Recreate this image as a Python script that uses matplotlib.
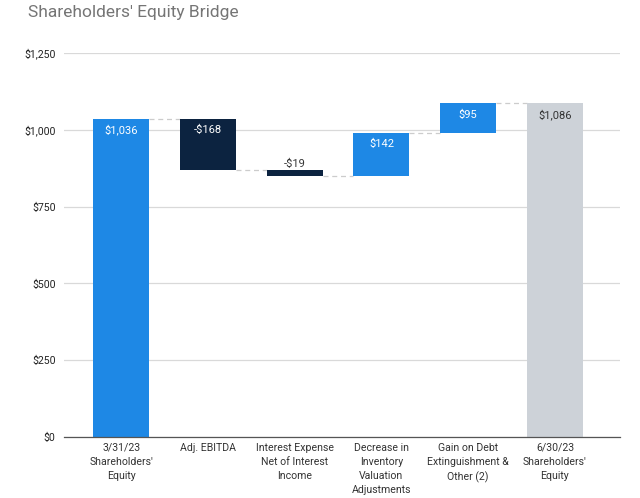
import matplotlib
matplotlib.use("Agg")
import matplotlib.pyplot as plt

categories = ["3/31/23\nShareholders'\nEquity", "Adj. EBITDA", "Interest Expense\nNet of Interest\nIncome",
              "Decrease in\nInventory\nValuation\nAdjustments", "Gain on Debt\nExtinguishment &\nOther (2)",
              "6/30/23\nShareholders'\nEquity"]
start_value = 1036
changes = [-168, -19, 142, 95]
end_value = 1086
labels = ["$1,036", "-$168", "-$19", "$142", "$95", "$1,086"]
yticks = [0, 250, 500, 750, 1000, 1250]
ytick_labels = ["$0", "$250", "$500", "$750", "$1,000", "$1,250"]

plt.rcParams['font.family'] = ['Roboto', 'DejaVu Sans']

BLUE = "#1e88e5"
NAVY = "#0c2340"
GRAY = "#cdd2d8"

fig = plt.figure(figsize=(6.4, 4.98), dpi=100)
ax = fig.add_axes([64/640, 1-437/498, (620-64)/640, (437-53)/498])

bottoms, heights, colors = [], [], []
bottoms.append(0); heights.append(start_value); colors.append(BLUE)
running = start_value
levels = [start_value]
for c in changes:
    new = running + c
    bottoms.append(min(running, new)); heights.append(abs(c))
    colors.append(BLUE if c > 0 else NAVY)
    running = new
    levels.append(running)
bottoms.append(0); heights.append(end_value); colors.append(GRAY)

x = list(range(len(categories)))
w = 0.645
ax.bar(x, heights, bottom=bottoms, width=w, color=colors, zorder=3)

# connectors
for i in range(len(categories)-1):
    ax.plot([i + w/2, i + 1 - w/2], [levels[i], levels[i]], ls=(0, (4, 3)),
            color="#cccccc", lw=0.9, zorder=2)

for i in range(len(categories)):
    top = bottoms[i] + heights[i]
    if i == 2:
        ax.text(i, top + 3, labels[i], ha='center', va='bottom', fontsize=8, color="#333333", zorder=4)
    else:
        col = "#333333" if i == len(categories)-1 else "white"
        ax.text(i, top - 37, labels[i], ha='center', va='center', fontsize=8, color=col, zorder=4)

ax.set_xlim(-0.66, 5.75)
ax.set_ylim(0, 1250)
ax.set_yticks(yticks)
ax.set_yticklabels(ytick_labels, fontsize=7.6, color="#222222")
ax.set_xticks(x)
ax.set_xticklabels(categories, fontsize=7.6, color="#333333", va='top', linespacing=1.5)
ax.tick_params(axis='both', length=0, pad=6)
ax.tick_params(axis='x', pad=4)
ax.grid(axis='y', color="#d9d9d9", lw=0.9, zorder=0)
for s in ['top', 'right', 'left']:
    ax.spines[s].set_visible(False)
ax.spines['bottom'].set_color("#555555")
ax.spines['bottom'].set_linewidth(0.9)
ax.spines['bottom'].set_zorder(4)

fig.text(28/640, 1-12/498, "Shareholders' Equity Bridge", fontsize=12.5, color="#757575",
         ha='left', va='center')

fig.savefig("out.png", dpi=100)
